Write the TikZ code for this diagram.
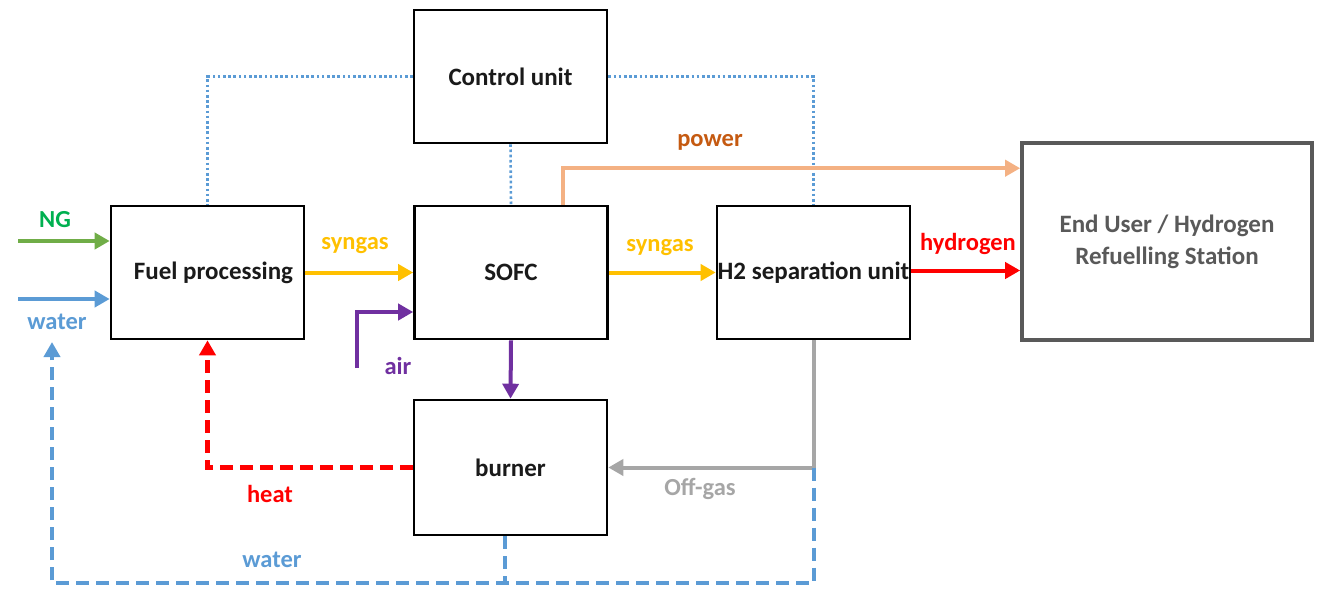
\documentclass[tikz,border=0pt]{standalone}
\usepackage{fontspec}
\setmainfont{Carlito}
\usetikzlibrary{arrows.meta,positioning,calc}
\definecolor{fpink}{HTML}{1A1A1A}
\definecolor{fpgreen}{HTML}{70AD47}
\definecolor{fplabgreen}{HTML}{00B050}
\definecolor{fpblue}{HTML}{5B9BD5}
\definecolor{fpyellow}{HTML}{FFC000}
\definecolor{fppurple}{HTML}{7030A0}
\definecolor{fpred}{HTML}{FF0000}
\definecolor{fppower}{HTML}{F4B183}
\definecolor{fplabpower}{HTML}{C55A11}
\definecolor{fpgray}{HTML}{A6A6A6}
\definecolor{fpdark}{HTML}{595959}
\tikzset{
  unit/.style={rectangle,draw=black,line width=2.6pt,fill=white,
               minimum width=193pt,minimum height=133pt,inner sep=0pt,
               align=center,font=\fontsize{25}{32}\selectfont\bfseries,text=fpink},
  enduser/.style={unit,draw=fpdark,line width=3.6pt,text=fpdark,
                  minimum width=290pt,minimum height=197pt},
  lab/.style={inner sep=0pt,font=\fontsize{24.5}{28}\selectfont\bfseries},
  flow/.style={-{Triangle[length=15pt,width=16pt]},line width=4pt},
  ctrl/.style={draw=fpblue,line width=2.6pt,dash pattern=on 2.6pt off 2.6pt},
  loop/.style={line width=4pt,dash pattern=on 13pt off 7pt},
}

\begin{document}
\begin{tikzpicture}[x=1pt,y=-1pt]
  \useasboundingbox (0,0) rectangle (1325,592);
  \node[unit] (fuel) at (207.5,272.5) {\hspace*{12pt}Fuel processing};
  \node[unit] (sofc) at (511,272.5) {SOFC};
  \node[unit] (h2) at (813.5,272.5) {H2 separation unit};
  \node[unit] (cu) at (510.5,76.5) {Control unit};
  \node[unit,minimum height=135pt] (burner) at (510.5,467.5) {burner};
  \node[enduser] (user) at (1167,241.5) {End User / Hydrogen\\Refuelling Station};

  \coordinate (ng) at (18,241);
  \coordinate (win) at (18,299);
  \coordinate (air) at (357,368);
  \coordinate (wj) at (h2.south |- burner.east);
  \coordinate (wlow) at (52,583);
  \coordinate (wend) at (52,342);

  \draw[ctrl] (cu.west) -| (fuel.north);
  \draw[ctrl] (cu.east) -| (h2.north);
  \draw[ctrl] (cu.south) -- (sofc.north);

  \draw[flow,fpgreen] (ng) -- (ng -| fuel.west);
  \draw[flow,fpblue] (win) -- (win -| fuel.west);
  \draw[flow,fpyellow] (fuel.east) -- (sofc.west);
  \draw[flow,fppurple] (air) |- ([yshift=-39.5pt]sofc.west);
  \draw[flow,fpyellow] (sofc.east) -- (h2.west);
  \draw[flow,fpred] ([yshift=2pt]h2.east) -- ([yshift=2pt]h2.east -| user.west);
  \draw[flow,fppower] ([xshift=52pt]sofc.north) |- ([yshift=-27pt]user.north west);
  \draw[flow,fppurple] (sofc.south) -- (burner.north);
  \draw[flow,fpgray] (h2.south) |- (burner.east);
  \draw[loop,fpred,line width=4.6pt,-{Triangle[length=15pt,width=16pt]}] (burner.west) -| (fuel.south);
  \draw[loop,fpblue,-{Triangle[length=15pt,width=16pt]}] (wj) |- (wlow) -- (wend);
  \draw[loop,fpblue] ([xshift=-6pt]burner.south) -- ([xshift=-6pt]burner.south |- wlow);

  \node[lab,fplabgreen] (lng) at (55,220) {NG};
  \node[lab,fpblue] (lwin) at (57,322) {water};
  \node[lab,fpyellow] (lsyn1) at (355,246) {syngas};
  \node[lab,fppurple] (lair) at (398,366) {air};
  \node[lab,fpyellow] (lsyn2) at (660,248) {syngas};
  \node[lab,fpred] (lh2) at (968,244) {hydrogen};
  \node[lab,fplabpower] (lpow) at (710,142) {power};
  \node[lab,fpred] (lheat) at (270,494) {heat};
  \node[lab,fpgray] (loff) at (700,489) {Off-gas};
  \node[lab,fpblue] (lwout) at (272,560) {water};
\end{tikzpicture}
\end{document}
